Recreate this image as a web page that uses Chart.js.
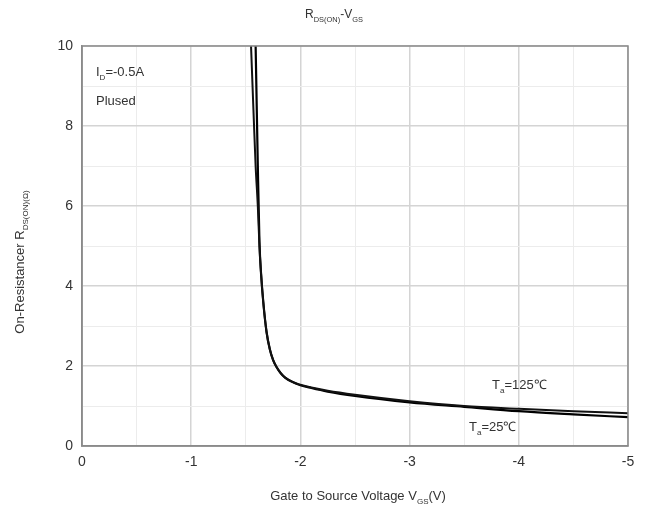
<!DOCTYPE html>
<html>
<head>
<meta charset="utf-8">
<script src="https://cdn.jsdelivr.net/npm/chart.js@4/dist/chart.umd.min.js"></script>
<style>
  body { margin: 0; background: #fff; }
</style>
</head>
<body>
<canvas id="myChart" width="652" height="511"></canvas>
<script>
// gate voltage (V) and on-resistance
var vgs125 = [-1.548, -1.57, -1.59, -1.61, -1.625, -1.64, -1.66, -1.69, -1.72, -1.75, -1.78, -1.82, -1.86, -1.92, -2.0, -2.1, -2.25, -2.5, -3.0, -3.5, -4.0, -4.5, -5.0];
var rds125 = [10, 8.4, 7.0, 6.0, 5.0, 4.3, 3.6, 2.85, 2.42, 2.15, 1.98, 1.82, 1.71, 1.61, 1.53, 1.46, 1.38, 1.28, 1.12, 1.0, 0.93, 0.87, 0.82];

var vgs25 = [-1.59, -1.60, -1.61, -1.625, -1.64, -1.66, -1.69, -1.72, -1.75, -1.78, -1.82, -1.86, -1.92, -2.0, -2.1, -2.25, -2.5, -3.0, -3.5, -4.0, -4.5, -5.0];
var rds25 = [10, 8.5, 7.0, 5.1, 4.3, 3.6, 2.85, 2.42, 2.15, 1.98, 1.82, 1.71, 1.61, 1.52, 1.45, 1.36, 1.25, 1.09, 0.98, 0.87, 0.79, 0.72];

var xTicks = [0, -1, -2, -3, -4, -5];
var yTicks = [0, 2, 4, 6, 8, 10];

function toPoints(xs, ys) {
  var pts = [];
  for (var i = 0; i < xs.length; i++) {
    pts.push({ x: xs[i], y: ys[i] });
  }
  return pts;
}

// draws text made of normal + subscript pieces
function richText(ctx, parts, x, y, size, align) {
  var total = 0;
  for (var i = 0; i < parts.length; i++) {
    ctx.font = (parts[i][1] ? size * 0.62 : size) + "px 'Liberation Sans', Arial, sans-serif";
    total += ctx.measureText(parts[i][0]).width;
  }
  var cx = x;
  if (align == "center") cx = x - total / 2;
  ctx.textBaseline = "alphabetic";
  ctx.textAlign = "left";
  for (var j = 0; j < parts.length; j++) {
    var sub = parts[j][1];
    ctx.font = (sub ? size * 0.62 : size) + "px 'Liberation Sans', Arial, sans-serif";
    ctx.fillText(parts[j][0], cx, sub ? y + size * 0.3 : y);
    cx += ctx.measureText(parts[j][0]).width;
  }
}

var labelsPlugin = {
  id: "labels",
  afterDraw: function (chart) {
    var ctx = chart.ctx;
    ctx.save();
    ctx.fillStyle = "#333";
    // title
    richText(ctx, [["R", false], ["DS(ON)", true], ["-V", false], ["GS", true]], 334, 18, 12, "center");
    // test conditions
    richText(ctx, [["I", false], ["D", true], ["=-0.5A", false]], 96, 76, 13, "left");
    richText(ctx, [["Plused", false]], 96, 105, 13, "left");
    // curve labels
    richText(ctx, [["T", false], ["a", true], ["=125\u2103", false]], 492, 389, 13, "left");
    richText(ctx, [["T", false], ["a", true], ["=25\u2103", false]], 469, 431, 13, "left");
    // x axis title
    richText(ctx, [["Gate to Source Voltage V", false], ["GS", true], ["(V)", false]], 358, 500, 13, "center");
    // y axis title
    ctx.translate(24, 262);
    ctx.rotate(-Math.PI / 2);
    richText(ctx, [["On-Resistancer R", false], ["DS(ON)(\u03a9)", true]], 0, 0, 13, "center");
    ctx.restore();
  }
};

var ctx = document.getElementById("myChart").getContext("2d");
var myChart = new Chart(ctx, {
  type: "line",
  data: {
    datasets: [
      {
        label: "Ta=125C",
        data: toPoints(vgs125, rds125),
        borderColor: "#111",
        borderWidth: 2,
        pointRadius: 0,
        cubicInterpolationMode: "monotone",
      },
      {
        label: "Ta=25C",
        data: toPoints(vgs25, rds25),
        borderColor: "#000",
        borderWidth: 2.2,
        pointRadius: 0,
        cubicInterpolationMode: "monotone",
      },
    ],
  },
  options: {
    responsive: false,
    animation: false,
    layout: { padding: { top: 46, right: 24, left: 0, bottom: 0 } },
    plugins: {
      legend: { display: false },
      tooltip: { enabled: false },
    },
    scales: {
      x: {
        type: "linear",
        min: -5,
        max: 0,
        reverse: true,
        afterFit: function (s) { s.height = 65; },
        afterBuildTicks: function (s) {
          var t = [];
          for (var v = -5; v <= 0.001; v += 0.5) t.push({ value: Math.round(v * 10) / 10 });
          s.ticks = t;
        },
        ticks: {
          padding: 8,
          color: "#333",
          font: { size: 14, family: "'Liberation Sans', Arial, sans-serif" },
          maxRotation: 0,
          autoSkip: false,
          callback: function (v) {
            return xTicks.indexOf(v) >= 0 ? String(v) : "";
          },
        },
        grid: {
          drawTicks: false,
          color: function (c) {
            return Number.isInteger(c.tick.value) ? "#d4d4d4" : "#ececec";
          },
          lineWidth: function (c) {
            return Number.isInteger(c.tick.value) ? 1.5 : 1;
          },
        },
        border: { color: "#8a8a8a", width: 1.5 },
      },
      y: {
        min: 0,
        max: 10,
        afterFit: function (s) { s.width = 82; },
        afterBuildTicks: function (s) {
          var t = [];
          for (var v = 0; v <= 10; v++) t.push({ value: v });
          s.ticks = t;
        },
        ticks: {
          padding: 9,
          color: "#333",
          font: { size: 14, family: "'Liberation Sans', Arial, sans-serif" },
          autoSkip: false,
          callback: function (v) {
            return yTicks.indexOf(v) >= 0 ? String(v) : "";
          },
        },
        grid: {
          drawTicks: false,
          color: function (c) {
            return c.tick.value % 2 == 0 ? "#d4d4d4" : "#ececec";
          },
          lineWidth: function (c) {
            return c.tick.value % 2 == 0 ? 1.5 : 1;
          },
        },
        border: { color: "#8a8a8a", width: 1.5 },
      },
    },
  },
  plugins: [
    labelsPlugin,
    {
      id: "frame",
      afterDatasetsDraw: function (chart) {
        var a = chart.chartArea;
        var c = chart.ctx;
        c.save();
        c.strokeStyle = "#8a8a8a";
        c.lineWidth = 1.5;
        c.strokeRect(a.left, a.top, a.right - a.left, a.bottom - a.top);
        c.restore();
      },
    },
  ],
});
</script>
</body>
</html>
